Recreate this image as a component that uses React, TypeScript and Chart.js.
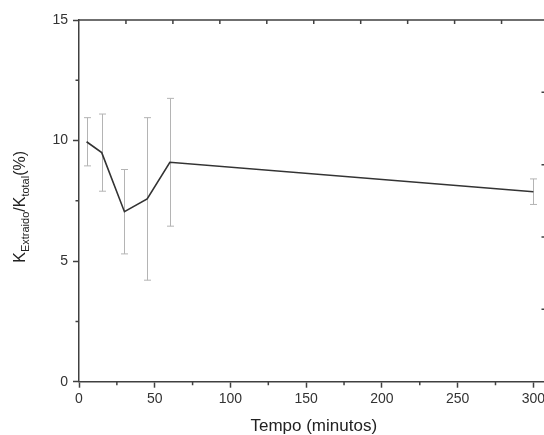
import React, { useEffect, useRef } from "react";
import { Chart, registerables } from "chart.js";
Chart.register(...registerables);

// Data
const TIME = [5, 15, 30, 45, 60, 300];
const RATIO = [9.95, 9.5, 7.05, 7.58, 9.1, 7.88];
const ERR = [1.0, 1.6, 1.75, 3.37, 2.65, 0.53];

const X_LABEL = "Tempo (minutos)";
const X_MINOR = [25, 75, 125, 175, 225, 275];
const Y_MINOR = [2.5, 7.5, 12.5];
const TOP_FRAME_TICKS = [1, 2, 3, 4, 5, 6, 7, 8, 9];
const RIGHT_FRAME_TICKS = [1, 2, 3, 4];

const FONT = '"Liberation Sans", Arial, sans-serif';
const AXIS_COLOR = "#404040";

const framePlugin = {
  id: "frame",
  beforeDatasetsDraw(chart: any) {
    const { ctx, scales } = chart;
    const x = scales.x;
    const y = scales.y;
    ctx.save();
    ctx.strokeStyle = "#b4b4b4";
    ctx.lineWidth = 1;
    TIME.forEach((t, i) => {
      const px = Math.round(x.getPixelForValue(t)) + 0.5;
      const yt = y.getPixelForValue(RATIO[i] + ERR[i]);
      const yb = y.getPixelForValue(RATIO[i] - ERR[i]);
      ctx.beginPath();
      ctx.moveTo(px, yt);
      ctx.lineTo(px, yb);
      ctx.moveTo(px - 3.5, yt);
      ctx.lineTo(px + 3.5, yt);
      ctx.moveTo(px - 3.5, yb);
      ctx.lineTo(px + 3.5, yb);
      ctx.stroke();
    });
    ctx.restore();
  },
  afterDraw(chart: any) {
    const { ctx, chartArea, scales } = chart;
    const { left, right, top, bottom } = chartArea;
    ctx.save();
    ctx.strokeStyle = AXIS_COLOR;
    ctx.lineWidth = 1.5;
    // top frame line
    ctx.beginPath();
    ctx.moveTo(left, top);
    ctx.lineTo(right + 1, top);
    ctx.moveTo(right, top);
    ctx.lineTo(right, bottom);
    ctx.stroke();
    // inward ticks on top frame
    ctx.beginPath();
    TOP_FRAME_TICKS.forEach((v) => {
      const px = scales.x2.getPixelForValue(v);
      ctx.moveTo(px, top);
      ctx.lineTo(px, top + 4);
    });
    RIGHT_FRAME_TICKS.forEach((v) => {
      const py = scales.y2.getPixelForValue(v);
      ctx.moveTo(right, py);
      ctx.lineTo(right - 7, py);
    });
    // minor ticks outward
    X_MINOR.forEach((v) => {
      const px = scales.x.getPixelForValue(v);
      ctx.moveTo(px, bottom);
      ctx.lineTo(px, bottom + 3.5);
    });
    Y_MINOR.forEach((v) => {
      const py = scales.y.getPixelForValue(v);
      ctx.moveTo(left, py);
      ctx.lineTo(left - 3.5, py);
    });
    ctx.stroke();

    // y axis title with subscripts
    ctx.fillStyle = "#222";
    const main = `16px ${FONT}`;
    const sub = `11px ${FONT}`;
    const parts: [string, string, number][] = [
      ["K", main, 0],
      ["Extraido", sub, 4],
      ["/K", main, 0],
      ["total", sub, 4],
      ["(%)", main, 0],
    ];
    let total = 0;
    const widths = parts.map(([t, f]) => {
      ctx.font = f;
      const w = ctx.measureText(t).width;
      total += w;
      return w;
    });
    ctx.translate(25, (top + bottom) / 2 + 6);
    ctx.rotate(-Math.PI / 2);
    ctx.textBaseline = "alphabetic";
    ctx.textAlign = "left";
    let cx = -total / 2;
    parts.forEach(([t, f, off], i) => {
      ctx.font = f;
      ctx.fillText(t, cx, off);
      cx += widths[i];
    });
    ctx.restore();
  },
};

export default function App() {
  const ref = useRef<HTMLCanvasElement | null>(null);
  useEffect(() => {
    if (!ref.current) return;
    const chart = new Chart(ref.current, {
      type: "line",
      data: {
        datasets: [
          {
            data: TIME.map((t, i) => ({ x: t, y: RATIO[i] })),
            borderColor: "#333",
            borderWidth: 1.6,
            pointRadius: 0,
            tension: 0,
            fill: false,
          },
        ],
      },
      options: {
        animation: false,
        responsive: false,
        devicePixelRatio: 1,
        layout: { padding: { left: 0, top: 20, right: 11.5, bottom: 0 } },
        plugins: { legend: { display: false }, tooltip: { enabled: false } },
        scales: {
          x: {
            type: "linear",
            position: "bottom",
            min: 0,
            max: 310,
            afterFit: (s: any) => {
              s.height = 53.3;
            },
            ticks: {
              stepSize: 50,
              includeBounds: false,
              padding: 3,
              color: "#333",
              font: { family: FONT, size: 14 },
            },
            grid: {
              drawOnChartArea: false,
              drawTicks: true,
              tickLength: 6,
              tickColor: AXIS_COLOR,
              tickWidth: 1.5,
            },
            border: { color: AXIS_COLOR, width: 1.5 },
            title: {
              display: true,
              text: X_LABEL,
              color: "#222",
              font: { family: FONT, size: 17, lineHeight: 1 },
              padding: { top: 0, bottom: 0 },
            },
          },
          y: {
            type: "linear",
            position: "left",
            min: 0,
            max: 15,
            afterFit: (s: any) => {
              s.width = 79;
            },
            ticks: {
              stepSize: 5,
              padding: 5,
              color: "#333",
              font: { family: FONT, size: 14 },
            },
            grid: {
              drawOnChartArea: false,
              drawTicks: true,
              tickLength: 6,
              tickColor: AXIS_COLOR,
              tickWidth: 1.5,
            },
            border: { color: AXIS_COLOR, width: 1.5 },
          },
          x2: {
            type: "linear",
            position: "top",
            min: 0,
            max: 10,
            display: false,
          },
          y2: {
            type: "linear",
            position: "right",
            min: 0,
            max: 5,
            display: false,
          },
        },
      },
      plugins: [framePlugin],
    } as any);
    return () => chart.destroy();
  }, []);
  return (
    <div
      style={{
        position: "fixed",
        left: 0,
        top: 0,
        width: 544,
        height: 435,
        overflow: "hidden",
        background: "#fff",
      }}
    >
      <canvas
        ref={ref}
        width={560}
        height={435}
        style={{ width: 560, height: 435, display: "block" }}
      />
    </div>
  );
}
